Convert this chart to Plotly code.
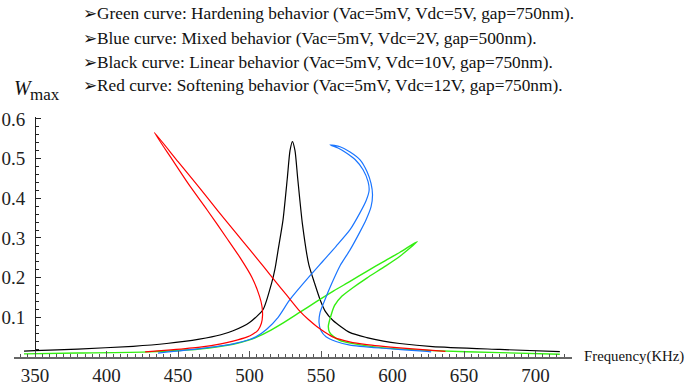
import plotly.graph_objects as go

# ---- data (frequency in kHz, W_max) ----
black_f = [342.3, 349.5, 380, 418.6, 442, 465, 480, 488.5, 500, 509.4, 515.5, 517.8, 520, 523.4,
           526.4, 528.3, 530, 531.8, 533.7, 537, 541.5, 545.4, 549.3, 553, 558.4, 570, 582,
           593.6, 605, 628, 675, 717]
black_w = [0.015, 0.016, 0.02, 0.027, 0.034, 0.045, 0.056, 0.066, 0.087, 0.119, 0.187, 0.222,
           0.27, 0.345, 0.45, 0.52, 0.543, 0.52, 0.45, 0.335, 0.232, 0.187, 0.145, 0.115, 0.092,
           0.062, 0.049, 0.04, 0.034, 0.026, 0.019, 0.0135]

red_f = [427, 445, 465.4, 480, 488.5, 498, 502.5, 506, 508.3, 509.1, 508.7, 507, 501.8, 493.5,
         484, 470.5, 457.5, 445.5, 433.4, 450, 464.2, 478, 490.5, 500.3, 510, 517.8,
         526, 535.3, 541, 547, 553, 558.6, 570, 582, 605, 637]
red_w = [0.013, 0.018, 0.025, 0.033, 0.04, 0.05, 0.058, 0.068, 0.085, 0.105, 0.128, 0.153,
         0.2, 0.25, 0.3, 0.37, 0.435, 0.5, 0.566, 0.4925, 0.43, 0.368, 0.313,
         0.27, 0.227, 0.192, 0.156, 0.115, 0.095, 0.077, 0.062, 0.05, 0.038, 0.031, 0.023, 0.014]

blue_f = [436, 465.4, 488.5, 500, 505, 512, 520, 528.3, 542.3, 551.4, 560.5, 570.3, 577.3,
          581.5, 583.6, 582.9, 579.4, 573.8, 567.5, 561.9, 556.3, 563.3, 570.3, 577.3, 582.2,
          585, 586, 585, 581.5, 577.3, 570.3, 563.3, 557.7, 552.8, 549.3, 548.6, 550, 553.5,
          560.5, 570.3, 593.4, 624.1, 627]
blue_w = [0.01, 0.021, 0.033, 0.044, 0.052, 0.07, 0.1, 0.145, 0.205, 0.242, 0.279, 0.321,
          0.364, 0.394, 0.419, 0.442, 0.472, 0.498, 0.515, 0.527, 0.535, 0.53, 0.517, 0.497,
          0.467, 0.437, 0.409, 0.379, 0.346, 0.316, 0.27, 0.23, 0.187, 0.145, 0.112, 0.087,
          0.066, 0.051, 0.039, 0.03, 0.022, 0.014, 0.013]

green_f = [342.3, 380, 430, 465, 488.5, 500, 505, 515, 523.6, 535.3, 547, 558.6, 570, 582,
           595, 605.2, 617.3, 605.2, 595, 582, 572, 564.5, 559.5, 557.5, 555.1, 556, 558.6,
           563, 570.3, 593.6, 628, 675, 717]
green_w = [0.008, 0.01, 0.013, 0.02, 0.032, 0.043, 0.05, 0.068, 0.086, 0.113, 0.14, 0.166,
           0.19, 0.216, 0.243, 0.264, 0.291, 0.254, 0.229, 0.199, 0.174, 0.153, 0.13, 0.111,
           0.077, 0.062, 0.052, 0.042, 0.035, 0.023, 0.016, 0.011, 0.007]

x_ticks = [350, 400, 450, 500, 550, 600, 650, 700]
y_ticks = [0.1, 0.2, 0.3, 0.4, 0.5, 0.6]
y_tick_text = ["0.1", "0.2", "0.3", "0.4", "0.5", "0.6"]

header_lines = [
    "➢Green curve: Hardening behavior (Vac=5mV, Vdc=5V, gap=750nm).",
    "➢Blue curve: Mixed behavior (Vac=5mV, Vdc=2V, gap=500nm).",
    "➢Black curve: Linear behavior (Vac=5mV, Vdc=10V, gap=750nm).",
    "➢Red curve: Softening behavior (Vac=5mV, Vdc=12V, gap=750nm).",
]

# ---- layout geometry (pixels) ----
W, H = 686, 389
L, R = 14, 572          # plot area left/right
T, B = 117.4, 357.4     # plot area top/bottom
X0, X1 = 335.3, 725.5
Y0, Y1 = 0.0, 0.605

def px(x):
    return (x - L) / (R - L)

def py(y):
    return (B - y) / (B - T)

SERIF = "Liberation Serif"

fig = go.Figure()
for f, w, c, lw in [(black_f, black_w, "#000000", 1.2),
                    (green_f, green_w, "#33EE11", 1.4),
                    (blue_f, blue_w, "#1A75FF", 1.2),
                    (red_f, red_w, "#FF0000", 1.2)]:
    fig.add_trace(go.Scatter(x=f, y=w, mode="lines",
                             line=dict(color=c, width=lw, shape="spline", smoothing=0.6),
                             hoverinfo="skip", showlegend=False))

fig.update_layout(
    width=W, height=H,
    margin=dict(l=L, r=W - R, t=T, b=H - B, pad=0, autoexpand=False),
    paper_bgcolor="white", plot_bgcolor="white",
    showlegend=False,
    font=dict(family=SERIF),
    xaxis=dict(range=[X0, X1], showgrid=False, zeroline=False, automargin=False,
               showline=True, linecolor="#666666", linewidth=2,
               ticks="inside", ticklen=6, tickwidth=1, tickcolor="#555555",
               tickvals=x_ticks, ticktext=[str(v) for v in x_ticks],
               tickfont=dict(family=SERIF, size=19, color="#222"),
               minor=dict(dtick=5, tick0=0, ticks="inside", ticklen=3, tickcolor="#555555",
                          showgrid=False)),
    yaxis=dict(range=[Y0, Y1], showgrid=False, zeroline=False, automargin=False,
               anchor="free", position=(350 - X0) / (X1 - X0),
               showline=True, linecolor="#222222", linewidth=1,
               ticks="inside", ticklen=5, tickwidth=1, tickcolor="#222222",
               tickvals=y_ticks, ticktext=y_tick_text, ticklabelstandoff=6,
               tickfont=dict(family=SERIF, size=19, color="#222"),
               minor=dict(dtick=0.02, tick0=0, ticks="inside", ticklen=3, tickcolor="#222222",
                          showgrid=False)),
)

header_y = [14, 39, 63, 86]
for txt, yy in zip(header_lines, header_y):
    fig.add_annotation(text=txt, xref="paper", yref="paper", x=px(82), y=py(yy),
                       xanchor="left", yanchor="middle", showarrow=False, borderpad=0,
                       font=dict(family=SERIF, size=17.3, color="#111"))

fig.add_annotation(text="<i>W</i>", xref="paper", yref="paper", x=px(13), y=py(88),
                   xanchor="left", yanchor="middle", showarrow=False, borderpad=0,
                   font=dict(family=SERIF, size=20, color="#111"))
fig.add_annotation(text="max", xref="paper", yref="paper", x=px(29), y=py(95),
                   xanchor="left", yanchor="middle", showarrow=False, borderpad=0,
                   font=dict(family=SERIF, size=17, color="#111"))
fig.add_annotation(text="Frequency(KHz)", xref="paper", yref="paper", x=px(583), y=py(357),
                   xanchor="left", yanchor="middle", showarrow=False, borderpad=0,
                   font=dict(family=SERIF, size=14.8, color="#111"))

fig.write_html("out.html", config={"displayModeBar": False},
               post_script="document.body.style.margin='0';document.body.style.padding='0';")
